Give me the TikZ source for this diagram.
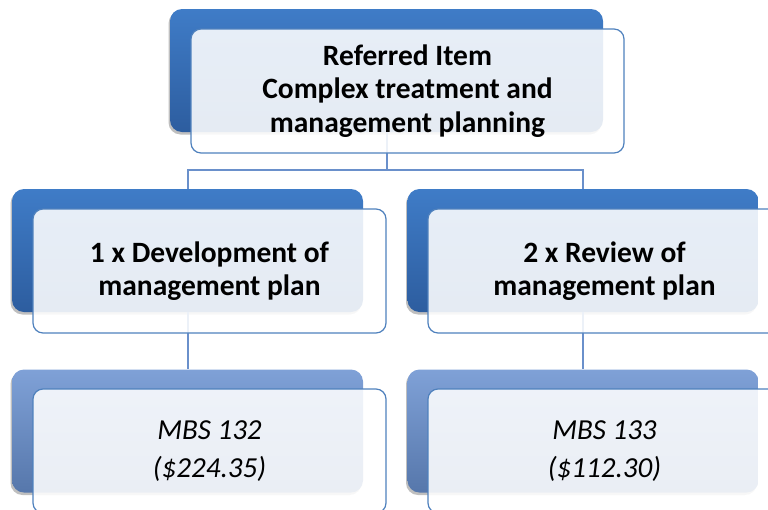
\documentclass[tikz,border=0pt]{standalone}
\usepackage{fontspec}
\setmainfont{Carlito}
\usetikzlibrary{shadows}
\definecolor{backtop}{HTML}{3F7CC7}
\definecolor{backbot}{HTML}{2D5D9F}
\definecolor{lighttop}{HTML}{7FA1D7}
\definecolor{lightbot}{HTML}{5677AB}
\definecolor{frameblue}{HTML}{4F81BD}
\definecolor{linkblue}{HTML}{6A90CB}
\tikzset{
  backbox/.style={rectangle, rounded corners=12pt, draw=none,
    top color=backtop, bottom color=backbot, inner sep=0pt,
    minimum width=351pt, minimum height=123pt,
    drop shadow={shadow xshift=-1.5pt, shadow yshift=-2.5pt, opacity=0.25, fill=black}},
  lightbox/.style={backbox, top color=lighttop, bottom color=lightbot},
  frontbox/.style={rectangle, rounded corners=10pt, draw=frameblue, line width=1.2pt,
    fill=white, fill opacity=0.88, text opacity=1, inner sep=0pt,
    minimum width=353pt, minimum height=124pt, align=center},
  link/.style={draw=linkblue, line width=2pt},
  headtext/.style={font=\fontsize{29.5}{33.5}\selectfont\bfseries},
  midtext/.style={font=\fontsize{29.5}{32.5}\selectfont\bfseries},
  lowtext/.style={font=\fontsize{29}{37.5}\selectfont\itshape}
}
\begin{document}
\begin{tikzpicture}[x=1pt,y=-1pt]
\useasboundingbox (0,0) rectangle (768,509);
\clip (0,0) rectangle (768,509);
% back boxes
\node[backbox, minimum width=433pt] (topback) at (386.5,70.5) {};
\node[backbox] (lback) at (187.5,250.5) {};
\node[backbox] (rback) at (583,250.5) {};
\node[lightbox] (llback) at (187.5,431) {};
\node[lightbox] (rlback) at (583,431) {};
% connectors
\draw[link] (topback.south) -- ++(0,38) coordinate (bar)
  -| (lback.north);
\draw[link] (bar) -| (rback.north);
\draw[link] (lback.south) -- (llback.north);
\draw[link] (rback.south) -- (rlback.north);
% front boxes
\node[frontbox, minimum width=433pt, headtext] (top) at (407.5,91)
  {Referred Item\\Complex treatment and\\management planning};
\node[frontbox, midtext] (left) at (209.5,271)
  {1 x Development of\\management plan};
\node[frontbox, midtext] (right) at (604.5,271)
  {2 x Review of\\management plan};
\node[frontbox, lowtext] (lleft) at (209.5,451)
  {MBS 132\\(\$224.35)};
\node[frontbox, lowtext] (lright) at (604.5,451)
  {MBS 133\\(\$112.30)};
\end{tikzpicture}
\end{document}
